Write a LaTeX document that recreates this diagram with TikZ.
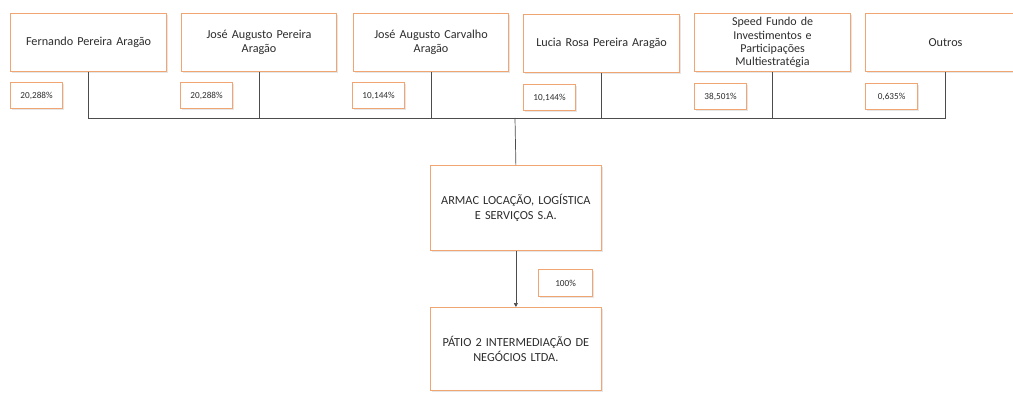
\documentclass[tikz,border=0pt]{standalone}
\usepackage{fontspec}
\setmainfont{Carlito}
\usetikzlibrary{shadows,arrows.meta}
\definecolor{bord}{RGB}{241,165,115}
\definecolor{txt}{RGB}{45,45,45}
\tikzset{
  ownerbox/.style={draw=bord, line width=1.1pt, fill=white, anchor=north west,
    minimum width=156pt, minimum height=58pt, align=center, text width=146pt,
    font=\fontsize{12.2}{13.5}\selectfont, text=txt,
    drop shadow={opacity=0.2, shadow xshift=1.3pt, shadow yshift=-1.3pt}},
  pctbox/.style={draw=bord, line width=1.1pt, fill=white, anchor=north west,
    minimum width=52pt, minimum height=26pt, inner sep=1pt,
    font=\fontsize{9.2}{10}\selectfont, text=txt,
    drop shadow={opacity=0.2, shadow xshift=1.3pt, shadow yshift=-1.3pt}},
  cobox/.style={draw=bord, line width=1.1pt, fill=white, anchor=north west,
    minimum width=170pt, minimum height=84pt, align=center, text width=164pt,
    font=\fontsize{12.3}{15}\selectfont, text=txt,
    drop shadow={opacity=0.2, shadow xshift=1.3pt, shadow yshift=-1.3pt}},
  link/.style={draw=black!70, line width=0.7pt}
}
\begin{document}
\begin{tikzpicture}[x=1pt,y=1pt]
\useasboundingbox (0,0) rectangle (1013,-393);
% owner boxes
\node[ownerbox] (b1) at (10,-13) {Fernando Pereira Aragão};
\node[ownerbox, minimum width=155pt] (b2) at (181,-13) {José Augusto Pereira\\Aragão};
\node[ownerbox, minimum width=155pt] (b3) at (353,-13) {José Augusto Carvalho\\Aragão};
\node[ownerbox] (b4) at (523,-14) {Lucia Rosa Pereira Aragão};
\node[ownerbox, font=\fontsize{12}{13.2}\selectfont, inner sep=1pt] (b5) at (694,-13) {Speed Fundo de\\Investimentos e\\Participações\\Multiestratégia};
\node[ownerbox, minimum width=160pt] (b6) at (865,-13) {Outros};
% junction
\coordinate (j) at (515,-118);
\draw[link] (b1.south) |- (j);
\draw[link] (b2.south) |- (j);
\draw[link] (b3.south) |- (j);
\draw[link] (b4.south) |- (j);
\draw[link] (b5.south) |- (j);
\draw[link] (b6.south) |- (j);
% percentages
\node[pctbox] (p1) at (10,-82) {20,288\%};
\node[pctbox] (p2) at (180,-82) {20,288\%};
\node[pctbox] (p3) at (352,-82) {10,144\%};
\node[pctbox] (p4) at (523,-84) {10,144\%};
\node[pctbox] (p5) at (694,-83) {38,501\%};
\node[pctbox] (p6) at (865,-83) {0,635\%};
% companies
\node[cobox, minimum height=85pt] (armac) at (430,-165) {ARMAC LOCAÇÃO, LOGÍSTICA\\E SERVIÇOS S.A.};
\node[cobox, minimum height=83pt] (patio) at (430,-307) {PÁTIO 2 INTERMEDIAÇÃO DE\\NEGÓCIOS LTDA.};
\draw[link] (j) -- (armac.north);
\draw[link, -{Triangle[length=4pt,width=4pt]}] (armac.south) -- (patio.north);
\node[pctbox, minimum width=54pt, minimum height=27pt] (p7) at (538,-269) {100\%};
\end{tikzpicture}
\end{document}
